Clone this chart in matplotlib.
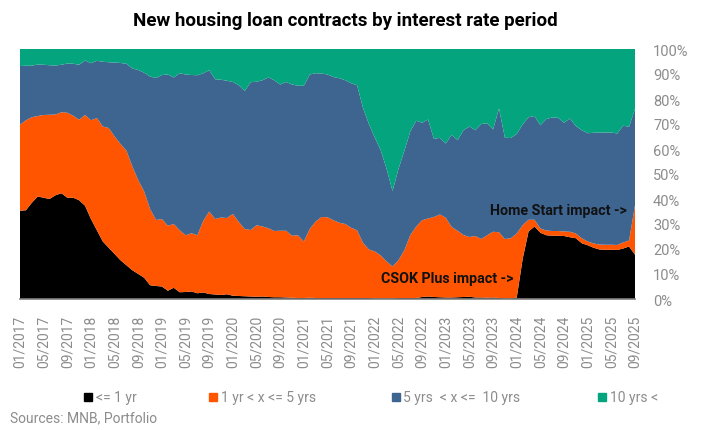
import numpy as np
import pandas as pd
import matplotlib
matplotlib.use("Agg")
import matplotlib.pyplot as plt
from matplotlib.patches import Rectangle

plt.rcParams['font.family'] = ['Roboto', 'DejaVu Sans']

# monthly shares (%), Jan 2017 - Sep 2025
months = pd.date_range('2017-01-01', periods=105, freq='MS')

upto_1y = [35.3, 35.5, 38.5, 41.0, 40.5, 40.0, 41.5, 42.3, 40.5, 40.5,
           39.5, 37.3, 32.0, 27.5, 23.0, 20.5, 18.0, 15.5, 13.5, 11.5,
           10.0, 8.5, 5.5, 5.2, 5.0, 3.3, 4.5, 2.7, 2.8, 3.0,
           2.3, 2.6, 2.0, 1.8, 1.6, 1.9, 1.3, 1.2, 1.1, 1.0,
           0.9, 1.0, 0.8, 0.7, 0.7, 0.6, 0.5, 0.4, 0.4, 0.5,
           0.4, 0.4, 0.4, 0.4, 0.4, 0.4, 0.4, 0.4, 0.4, 0.4,
           0.3, 0.3, 0.3, 0.3, 0.4, 0.4, 0.4, 0.4, 0.8, 1.0,
           0.8, 0.7, 0.6, 0.6, 0.7, 0.8, 0.9, 0.6, 0.6, 0.5,
           0.6, 0.4, 0.3, 0.3, 0.5, 16.0, 27.0, 29.0, 26.5, 25.5,
           25.3, 25.3, 25.2, 24.7, 24.3, 22.3, 21.5, 20.5, 19.8, 19.7,
           19.7, 19.6, 20.2, 21.0, 17.7]

y1_to_5 = [34.4, 36.0, 34.2, 32.2, 33.1, 33.7, 32.3, 32.4, 34.0, 32.8,
           32.2, 36.3, 39.5, 44.9, 46.0, 47.9, 47.0, 46.5, 45.8, 41.5,
           37.5, 34.5, 30.5, 26.4, 27.0, 26.0, 25.5, 24.8, 22.7, 23.3,
           23.2, 28.7, 33.0, 30.2, 31.0, 30.5, 32.7, 29.6, 26.9, 26.6,
           28.6, 28.0, 27.5, 26.5, 26.6, 26.7, 24.8, 25.1, 22.6, 27.5,
           30.6, 32.4, 32.3, 31.1, 30.1, 29.6, 28.1, 27.1, 22.1, 19.4,
           18.7, 17.1, 14.7, 12.7, 15.1, 19.1, 25.1, 28.6, 30.7, 31.2,
           32.0, 33.1, 31.9, 28.2, 26.6, 24.8, 23.9, 24.6, 23.4, 25.0,
           26.3, 26.3, 23.7, 24.0, 25.7, 13.5, 4.7, 2.7, 1.7, 1.9,
           1.9, 1.9, 1.8, 2.2, 1.9, 2.0, 1.5, 1.7, 2.0, 2.0,
           2.0, 2.0, 2.4, 2.4, 19.8]

y5_to_10 = [23.5, 21.8, 20.6, 20.6, 20.1, 19.8, 19.6, 19.0, 19.7, 20.8,
            22.0, 21.8, 22.8, 22.9, 25.9, 26.3, 29.6, 32.4, 34.8, 39.2,
            44.1, 47.5, 53.0, 56.8, 57.6, 60.5, 58.6, 62.8, 64.3, 63.3,
            64.0, 59.0, 56.5, 55.9, 55.1, 54.9, 52.8, 54.7, 55.2, 59.1,
            57.4, 58.5, 60.3, 60.3, 58.5, 59.5, 60.5, 59.8, 62.3, 61.8,
            59.3, 57.4, 57.1, 57.3, 57.8, 57.5, 57.8, 58.0, 54.0, 50.2,
            45.5, 42.1, 37.0, 30.2, 36.5, 39.8, 41.5, 42.3, 39.0, 39.6,
            31.2, 30.7, 29.7, 36.9, 36.2, 41.9, 44.2, 42.3, 46.0, 44.8,
            40.9, 49.5, 40.5, 40.1, 39.8, 40.3, 41.0, 41.5, 41.3, 44.6,
            45.4, 45.3, 43.5, 45.3, 43.0, 43.2, 43.3, 44.3, 44.8, 44.9,
            44.9, 44.6, 46.7, 45.5, 38.5]

over_10y = [6.8, 6.7, 6.7, 6.2, 6.3, 6.5, 6.6, 6.3, 5.8, 5.9,
            6.3, 4.6, 5.7, 4.7, 5.1, 5.3, 5.4, 5.6, 5.9, 7.8,
            8.4, 9.5, 11.0, 11.6, 10.4, 10.2, 11.4, 9.7, 10.2, 10.4,
            10.5, 9.7, 8.5, 12.1, 12.3, 12.7, 13.2, 14.5, 16.8, 13.3,
            13.1, 12.5, 11.4, 12.5, 14.2, 13.2, 14.2, 14.7, 14.7, 10.2,
            9.7, 9.8, 10.2, 11.2, 11.7, 12.5, 13.7, 14.5, 23.5, 30.0,
            35.5, 40.5, 48.0, 56.8, 48.0, 40.7, 33.0, 28.7, 29.5, 28.2,
            36.0, 35.5, 37.8, 34.3, 36.5, 32.5, 31.0, 32.5, 30.0, 29.7,
            32.2, 23.8, 35.5, 35.6, 34.0, 30.2, 27.3, 26.8, 30.5, 28.0,
            27.4, 27.5, 29.5, 27.8, 30.8, 32.5, 33.7, 33.5, 33.4, 33.4,
            33.4, 33.8, 30.7, 31.1, 24.0]

labels = ['<= 1 yr', '1 yr < x <= 5 yrs', '5 yrs  < x <=  10 yrs', '10 yrs <']
colors = ['#000000', '#FF5500', '#3E6490', '#03A47E']
gray = '#8C8C8C'

fig = plt.figure(figsize=(7.18, 4.31), dpi=100)
ax = fig.add_axes([20/718, 1 - 300/431, 615/718, 250/431])

x = np.arange(len(months))
ax.stackplot(x, upto_1y, y1_to_5, y5_to_10, over_10y, colors=colors, linewidth=0)

ax.set_xlim(0, len(months) - 1)
ax.set_ylim(0, 100)

# axes styling
for s in ['top', 'left', 'right']:
    ax.spines[s].set_visible(False)
ax.spines['bottom'].set_color('#7f7f7f')
ax.spines['bottom'].set_linewidth(1.2)

ax.yaxis.tick_right()
ax.set_yticks(np.arange(0, 101, 10))
ax.set_yticklabels(['%d%%' % v for v in range(0, 101, 10)])
ax.tick_params(axis='y', length=0, pad=13, labelsize=10.5, labelcolor=gray)

ticks = x[::4]
ax.set_xticks(ticks)
ax.set_xticklabels([months[i].strftime('%m/%Y') for i in ticks], rotation=90)
ax.tick_params(axis='x', length=0, pad=11, labelsize=10, labelcolor=gray)

ax.text(102.7, 35.6, 'Home Start impact ->', fontsize=10.3, fontweight='bold',
        ha='right', va='center', color='#111111')
ax.text(83.4, 8.4, 'CSOK Plus impact ->', fontsize=10.3, fontweight='bold',
        ha='right', va='center', color='#111111')

fig.text(345/718, 1 - 21/431, 'New housing loan contracts by interest rate period',
         ha='center', va='center', fontsize=13.5, fontweight='bold')

# legend, laid out like the original
sq_x = [88, 213, 395.5, 601.5]
for cx, lab, col in zip(sq_x, labels, colors):
    fig.add_artist(Rectangle(((cx - 4) / 718, 1 - 402/431), 8/718, 8/431,
                             transform=fig.transFigure, color=col))
    fig.text((cx + 8) / 718, 1 - 398/431, lab, ha='left', va='center',
             fontsize=10, color=gray)

fig.text(10/718, 1 - 418/431, 'Sources: MNB, Portfolio', ha='left', va='center',
         fontsize=10, color=gray)

fig.savefig('out.png', dpi=100)
